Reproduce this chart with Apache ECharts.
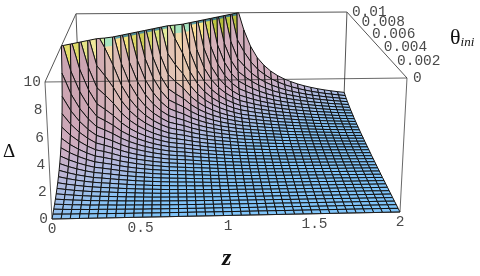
<!DOCTYPE html><html><head><meta charset="utf-8"><style>html,body{margin:0;background:#fff}#c{width:480px;height:276px}</style><script src="https://cdn.jsdelivr.net/npm/echarts@6/dist/echarts.min.js"></script></head><body><div id="c"></div><script>
// Axis ticks
const zTicks=[0,0.5,1,1.5,2];
const deltaTicks=[0,2,4,6,8,10];
const thetaTicks=[0,0.002,0.004,0.006,0.008,0.01];
const zMax=2,thetaMax=0.01,deltaClip=10,offScale=99;
// Delta: one list per z line, from theta=0 upward; entries left out are above the clip at 10.
const deltaByZ=[
[0,.11,.24,.37,.52,.69,.88,1.09,1.34,1.62,1.94,2.33,2.79,3.36,4.06,4.97,6.19,7.91,10.5],
[0,.10,.21,.34,.47,.62,.78,.97,1.18,1.42,1.69,2.01,2.39,2.84,3.40,4.09,4.99,6.20,7.90,10.5],
[0,.09,.19,.30,.42,.56,.70,.87,1.05,1.25,1.49,1.76,2.07,2.44,2.89,3.43,4.12,5.00,6.20,7.90,10.5],
[0,.09,.18,.28,.39,.50,.63,.78,.94,1.12,1.32,1.55,1.81,2.12,2.48,2.92,3.46,4.13,5.01,6.19,7.88,10.5],
[0,.08,.16,.25,.35,.46,.58,.71,.85,1.00,1.18,1.38,1.60,1.86,2.16,2.52,2.95,3.48,4.14,5.01,6.18,7.87,10.5],
[0,.08,.16,.24,.33,.43,.54,.66,.79,.94,1.10,1.29,1.49,1.73,2.01,2.33,2.72,3.19,3.78,4.54,5.56,7.01,9.22,13],
[0,.07,.15,.23,.31,.41,.51,.62,.74,.87,1.02,1.19,1.38,1.59,1.83,2.12,2.46,2.87,3.38,4.02,4.87,6.03,7.74,10.5],
[0,.07,.14,.21,.29,.38,.47,.57,.68,.80,.93,1.08,1.24,1.42,1.63,1.87,2.16,2.49,2.89,3.39,4.03,4.87,6.02,7.72,10.5],
[0,.06,.13,.20,.27,.35,.44,.53,.63,.74,.85,.98,1.13,1.29,1.47,1.67,1.91,2.19,2.52,2.91,3.41,4.03,4.86,6.00,7.70,10.5],
[0,.06,.12,.19,.26,.33,.41,.49,.58,.68,.79,.90,1.03,1.17,1.33,1.51,1.71,1.95,2.22,2.54,2.93,3.42,4.04,4.85,5.99,7.69,10.5],
[0,.06,.11,.18,.24,.31,.38,.46,.55,.63,.73,.84,.95,1.08,1.22,1.37,1.55,1.75,1.98,2.25,2.57,2.95,3.43,4.04,4.85,5.98,7.68,10.5],
[0,.05,.11,.17,.23,.29,.36,.44,.51,.60,.68,.78,.88,1.00,1.12,1.26,1.41,1.59,1.78,2.01,2.27,2.59,2.97,3.44,4.05,4.85,5.98,7.66,10.5],
[0,.05,.10,.16,.22,.28,.34,.41,.48,.56,.64,.73,.83,.93,1.04,1.16,1.30,1.45,1.62,1.82,2.04,2.30,2.61,2.99,3.45,4.05,4.85,5.96,7.64,10.5],
[0,.05,.10,.15,.21,.27,.33,.39,.46,.53,.61,.69,.78,.87,.97,1.08,1.20,1.34,1.49,1.66,1.85,2.07,2.33,2.63,3.01,3.47,4.06,4.85,5.96,7.64,10.5],
[0,.05,.10,.15,.20,.26,.32,.38,.44,.51,.59,.66,.75,.83,.93,1.04,1.15,1.27,1.41,1.57,1.75,1.95,2.18,2.46,2.79,3.19,3.71,4.38,5.30,6.66,8.84,13],
[0,.05,.10,.15,.20,.25,.31,.37,.43,.50,.57,.64,.72,.80,.89,.99,1.10,1.22,1.34,1.49,1.65,1.84,2.05,2.30,2.59,2.95,3.40,3.98,4.75,5.85,7.54,10.5],
[0,.05,.09,.14,.19,.24,.30,.35,.41,.48,.54,.61,.68,.76,.85,.94,1.03,1.14,1.26,1.39,1.53,1.69,1.87,2.08,2.33,2.62,2.98,3.42,3.99,4.76,5.85,7.55,10.5],
[0,.04,.09,.14,.19,.24,.29,.34,.40,.46,.52,.59,.65,.73,.81,.89,.98,1.08,1.18,1.30,1.42,1.57,1.72,1.91,2.11,2.36,2.65,3.00,3.44,4.01,4.77,5.86,7.54,10.5],
[0,.04,.09,.13,.18,.23,.28,.33,.39,.44,.50,.56,.63,.70,.77,.85,.93,1.02,1.12,1.22,1.33,1.46,1.60,1.76,1.94,2.15,2.39,2.68,3.03,3.46,4.03,4.79,5.87,7.54,10.5],
[0,.04,.09,.13,.18,.22,.27,.32,.37,.43,.48,.54,.61,.67,.74,.81,.89,.97,1.06,1.16,1.26,1.37,1.50,1.64,1.80,1.98,2.18,2.42,2.71,3.06,3.49,4.05,4.80,5.88,7.55,10.5],
[0,.04,.08,.13,.17,.22,.26,.31,.36,.41,.47,.53,.58,.65,.71,.78,.85,.93,1.01,1.10,1.20,1.30,1.41,1.54,1.68,1.83,2.01,2.22,2.45,2.74,3.08,3.52,4.07,4.82,5.89,7.54,10.5],
[0,.04,.08,.12,.17,.21,.26,.31,.35,.40,.46,.51,.57,.63,.69,.75,.82,.89,.97,1.05,1.14,1.24,1.34,1.45,1.58,1.72,1.87,2.05,2.25,2.49,2.77,3.12,3.55,4.10,4.84,5.90,7.56,10.5],
[0,.04,.08,.12,.16,.21,.25,.30,.35,.39,.44,.50,.55,.61,.67,.73,.79,.86,.93,1.01,1.09,1.18,1.27,1.38,1.49,1.62,1.75,1.91,2.08,2.29,2.52,2.81,3.15,3.57,4.12,4.86,5.92,7.57,10.5],
[0,.04,.08,.12,.16,.20,.25,.29,.34,.39,.43,.48,.54,.59,.65,.71,.77,.83,.90,.97,1.05,1.13,1.22,1.32,1.42,1.53,1.66,1.79,1.95,2.12,2.33,2.56,2.84,3.18,3.61,4.16,4.90,5.95,7.59,10.5],
[0,.04,.08,.12,.16,.20,.24,.29,.33,.38,.43,.48,.53,.58,.64,.69,.75,.81,.88,.95,1.02,1.10,1.19,1.27,1.37,1.48,1.59,1.72,1.86,2.02,2.21,2.42,2.67,2.96,3.33,3.79,4.39,5.22,6.43,8.39],
[0,.04,.08,.12,.16,.20,.24,.28,.33,.37,.42,.47,.52,.57,.62,.68,.74,.80,.86,.93,1.00,1.07,1.15,1.23,1.33,1.42,1.53,1.65,1.78,1.93,2.09,2.28,2.50,2.76,3.07,3.45,3.94,4.58,5.48,6.83],
[0,.04,.08,.12,.16,.20,.24,.28,.32,.37,.41,.46,.51,.56,.61,.66,.72,.78,.84,.90,.97,1.04,1.12,1.20,1.28,1.37,1.48,1.58,1.70,1.84,1.99,2.16,2.35,2.58,2.84,3.17,3.57,4.08,4.77,5.74],
[0,.04,.08,.11,.15,.19,.23,.28,.32,.36,.41,.45,.50,.55,.60,.65,.71,.76,.82,.88,.95,1.02,1.09,1.17,1.25,1.33,1.43,1.53,1.64,1.77,1.90,2.06,2.23,2.43,2.67,2.94,3.28,3.71,4.26,5.00],
[0,.04,.07,.11,.15,.19,.23,.27,.32,.36,.40,.45,.49,.54,.59,.64,.69,.75,.81,.87,.93,.99,1.06,1.14,1.21,1.30,1.38,1.48,1.58,1.70,1.82,1.96,2.12,2.30,2.51,2.75,3.04,3.40,3.84,4.43],
[0,.04,.07,.11,.15,.19,.23,.27,.31,.35,.40,.44,.49,.53,.58,.63,.68,.74,.79,.85,.91,.97,1.04,1.11,1.18,1.26,1.35,1.44,1.53,1.64,1.76,1.89,2.03,2.19,2.38,2.59,2.85,3.15,3.53,4.00],
[0,.04,.07,.11,.15,.19,.23,.27,.31,.35,.39,.44,.48,.53,.57,.62,.67,.72,.78,.84,.89,.95,1.02,1.09,1.16,1.23,1.31,1.40,1.49,1.59,1.70,1.82,1.95,2.10,2.26,2.46,2.68,2.94,3.26,3.66],
[0,.04,.07,.11,.15,.19,.22,.26,.31,.35,.39,.43,.48,.52,.57,.62,.66,.71,.77,.82,.88,.94,1.00,1.06,1.13,1.20,1.28,1.36,1.45,1.54,1.65,1.76,1.88,2.02,2.17,2.34,2.54,2.77,3.05,3.39],
[0,.04,.07,.11,.15,.18,.22,.26,.30,.34,.38,.43,.47,.51,.56,.61,.66,.71,.76,.81,.86,.92,.98,1.04,1.11,1.18,1.25,1.33,1.41,1.50,1.60,1.70,1.82,1.94,2.08,2.24,2.42,2.63,2.87,3.16],
[0,.04,.07,.11,.15,.18,.22,.26,.30,.34,.38,.42,.47,.51,.55,.60,.65,.70,.75,.80,.85,.91,.97,1.03,1.09,1.16,1.23,1.30,1.38,1.47,1.56,1.65,1.76,1.88,2.01,2.15,2.32,2.50,2.72,2.97],
[0,.04,.07,.11,.14,.18,.22,.26,.30,.34,.38,.42,.46,.50,.55,.59,.64,.69,.74,.79,.84,.89,.95,1.01,1.07,1.14,1.20,1.28,1.35,1.43,1.52,1.61,1.71,1.82,1.94,2.07,2.22,2.39,2.58,2.81],
[0,.04,.07,.11,.14,.18,.22,.26,.30,.33,.37,.42,.46,.50,.54,.59,.63,.68,.73,.78,.83,.88,.94,1.00,1.06,1.12,1.18,1.25,1.32,1.40,1.48,1.57,1.67,1.77,1.88,2.01,2.14,2.30,2.47,2.67],
[0,.04,.07,.11,.14,.18,.22,.25,.29,.33,.37,.41,.45,.50,.54,.58,.63,.67,.72,.77,.82,.87,.93,.98,1.04,1.10,1.16,1.23,1.30,1.37,1.45,1.54,1.63,1.72,1.83,1.94,2.07,2.21,2.37,2.55],
[0,.04,.07,.11,.14,.18,.22,.25,.29,.33,.37,.41,.45,.49,.53,.58,.62,.67,.71,.76,.81,.86,.91,.97,1.02,1.08,1.14,1.21,1.28,1.35,1.42,1.50,1.59,1.68,1.78,1.89,2.01,2.14,2.29,2.45],
[0,.04,.07,.11,.14,.18,.21,.25,.29,.33,.37,.41,.45,.49,.53,.57,.62,.66,.71,.75,.80,.85,.90,.96,1.01,1.07,1.13,1.19,1.26,1.33,1.40,1.47,1.56,1.64,1.74,1.84,1.95,2.07,2.21,2.36],
[0,.03,.07,.10,.14,.18,.21,.25,.29,.33,.36,.40,.44,.48,.52,.57,.61,.65,.70,.75,.79,.84,.89,.95,1.00,1.05,1.11,1.17,1.24,1.30,1.37,1.45,1.53,1.61,1.70,1.80,1.90,2.01,2.14,2.28]
];
// Colours seen along the clipped rim, one per z cell
const toothColors=['#e3dc6a','#dfdb68','#e8e488','#efe89a','#e9eda0','#f3d8a8','#fbdf90','#f2e27c','#dcd866','#cccb52','#d2d666','#dae47c','#e2ea9a','#dfe8a0','#f2d8a8','#f5d9a4','#fadf98','#f8e488','#d8d860','#bcc440','#b4bc3a','#bcc642','#b4bc3c','#b0b838','#b0b838'];
const capColors=['#e3dc6a','#dfdb68','#e8e488','#efe89a','#d5efa0','#a8e4c0','#5fa0a8','#4f8a96','#4f8a96','#4f8a96','#4f8a96','#4f8a96','#6fb0a8','#b8e8a0','#a8e4c0','#a8e4c0','#5fa0a8','#4f8a96','#4f8a96','#3f7a86','#3f7a86','#3f7a86','#3f7a86','#3f7a86','#3f7a86'];
const capDepths=[0,0,0,0,.4,.7,.2,.2,.2,.2,.2,.2,.2,.4,.7,.7,.2,.2,.2,.2,.2,.2,.2,.2,.2];
const steepColors=['#cca5b2','#cca5b2','#cca5b2','#cfa9b3','#d3aeb3','#dab8b4','#dcbcb4','#d8b5b4','#d6b3b4','#d8b6b5','#dbbbb6','#debfb6','#e0c2b6','#e2c4b4','#e8c8b0','#e8c8b0','#e4c2b2','#dfbcb4','#d9b5b6','#d5b0b8','#d3aeb9','#d2adba','#d1adba','#d0adbb'];
const zs=deltaByZ.map((_,j)=>zMax*j/(deltaByZ.length-1));
const NT=deltaByZ[deltaByZ.length-1].length;
const ts=[...Array(NT).keys()].map(i=>i/(NT-1));
const V=(i,j)=>{const v=deltaByZ[j][i];return v===undefined?offScale:v;};
// Perspective of the box: z/zMax, theta/thetaMax, delta/10 to picture coordinates
function P(z,t,d){const x=z/2,y=t,h=d/10,w=1+.02356*x+.328*y-.0391*h;return [(52+357.42*x+54.7*y-8.76*h)/w,(219-2*x-61*y-140.21*h)/w];}
const ramp=[[0,[122,197,252]],[3,[133,196,247]],[6,[163,189,230]],[12,[190,182,214]],[25,[206,172,190]]];
function hex(c){return [1,3,5].map(n=>parseInt(c.substr(n,2),16));}
function col(s,j){const tint=hex(steepColors[Math.min(j,steepColors.length-1)]);const stops=ramp.concat([[60,tint]]);if(s>=60)return 'rgb('+tint+')';for(let k=1;k<stops.length;k++){if(s<=stops[k][0]){const r=stops[k-1],q=stops[k],u=(s-r[0])/(q[0]-r[0]);return 'rgb('+r[1].map((v,n)=>Math.round(v+(q[1][n]-v)*u))+')';}}}
function cut(poly,level,keepBelow){const o=[];const inside=a=>keepBelow?a[2]<=level:a[2]>=level;for(let k=0;k<poly.length;k++){const A=poly[k],B=poly[(k+1)%poly.length];if(inside(A))o.push(A);if(inside(A)!==inside(B)){const u=(level-A[2])/(B[2]-A[2]);o.push([A[0]+u*(B[0]-A[0]),A[1]+u*(B[1]-A[1]),level]);}}return o;}
const cells=[];for(let i=NT-2;i>=0;i--)for(let j=0;j<zs.length-1;j++)cells.push([i,j]);
const backBox=[[[0,0,10],[0,1,10]],[[0,1,10],[2,1,10]],[[2,1,10],[2,0,10]],[[0,1,10],[0,1,0]],[[2,1,10],[2,1,0]]];
const frontBox=[[[0,0,0],[0,0,10]],[[0,0,10],[2,0,10]],[[2,0,10],[2,0,0]],[[2,0,0],[0,0,0]]];
const mono='"Liberation Mono",monospace';
function lines(data,color,w){return {type:'custom',coordinateSystem:'cartesian2d',data:data.map((_,n)=>[n]),silent:true,renderItem:(p,api)=>{const l=data[api.value(0)];const a=api.coord(P(...l[0])),b=api.coord(P(...l[1]));return {type:'line',shape:{x1:a[0],y1:a[1],x2:b[0],y2:b[1]},style:{stroke:color,lineWidth:w}};}};}
function labels(items){return {type:'custom',coordinateSystem:'cartesian2d',data:items.map((_,n)=>[n]),silent:true,renderItem:(p,api)=>{const l=items[api.value(0)];const a=api.coord(P(...l.at));return {type:'text',x:a[0]+l.dx,y:a[1]+l.dy,style:{text:l.text,fill:'#4a4a4a',font:'14.5px '+mono,align:l.align,verticalAlign:'middle'}};}};}
const chart=echarts.init(document.getElementById('c'),null,{renderer:'canvas'});
chart.setOption({animation:false,grid:{left:0,right:0,top:0,bottom:0},xAxis:{type:'value',min:0,max:480,show:false},yAxis:{type:'value',min:0,max:276,inverse:true,show:false},
graphic:[{type:'text',left:3,top:143,style:{text:'Δ',fill:'#111',font:'19px "Liberation Serif"'}},
{type:'text',left:222,top:247,style:{text:'z',fill:'#111',font:'italic bold 24px "Liberation Serif"'}},
{type:'text',left:450,top:27,style:{text:'θ{a|ini}',fill:'#111',font:'22px "Liberation Serif"',rich:{a:{font:'italic 13px "Liberation Serif"',fill:'#111',verticalAlign:'bottom',padding:[8,0,0,0]}}}}],
series:[lines(backBox,'#555',1),
{type:'custom',coordinateSystem:'cartesian2d',data:cells,renderItem:(p,api)=>{const i=api.value(0),j=api.value(1);
const q=[[zs[j],ts[i],V(i,j)],[zs[j+1],ts[i],V(i,j+1)],[zs[j+1],ts[i+1],V(i+1,j+1)],[zs[j],ts[i+1],V(i+1,j)]];
const o=cut(q,deltaClip,true);if(o.length<3)return null;
const under=q.filter(a=>a[2]<=deltaClip).length;
const dz=((q[1][2]+q[2][2])-(q[0][2]+q[3][2]))/2/(zs[1]/2),dt=((q[3][2]+q[2][2])-(q[0][2]+q[1][2]))/2/ts[1];
const fill=under==4?col(Math.hypot(dz,dt),j):under==3?col(60,j):toothColors[j];
const pts=a=>a.map(b=>api.coord(P(b[0],b[1],b[2])));
const children=[{type:'polygon',shape:{points:pts(o)},style:{fill,stroke:null}}];
if(under<3&&capDepths[j]>0){const band=cut(o,deltaClip-capDepths[j],false);if(band.length>2)children.push({type:'polygon',shape:{points:pts(band)},style:{fill:capColors[j],stroke:null}});}
children.push({type:'polygon',shape:{points:pts(o)},style:{fill:null,stroke:'#111',lineWidth:1}});
return {type:'group',children};}},
lines(frontBox,'rgba(40,40,40,.7)',1),
labels(zTicks.map(v=>({at:[v,0,0],text:String(v),dx:0,dy:10.5,align:'center'}))),
labels(deltaTicks.map(v=>({at:[0,0,v],text:String(v),dx:-4,dy:0,align:'right'}))),
labels(thetaTicks.map(v=>({at:[2,v/thetaMax,10],text:String(v),dx:v==0?6:5,dy:0,align:'left'})))]});
</script></body></html>
